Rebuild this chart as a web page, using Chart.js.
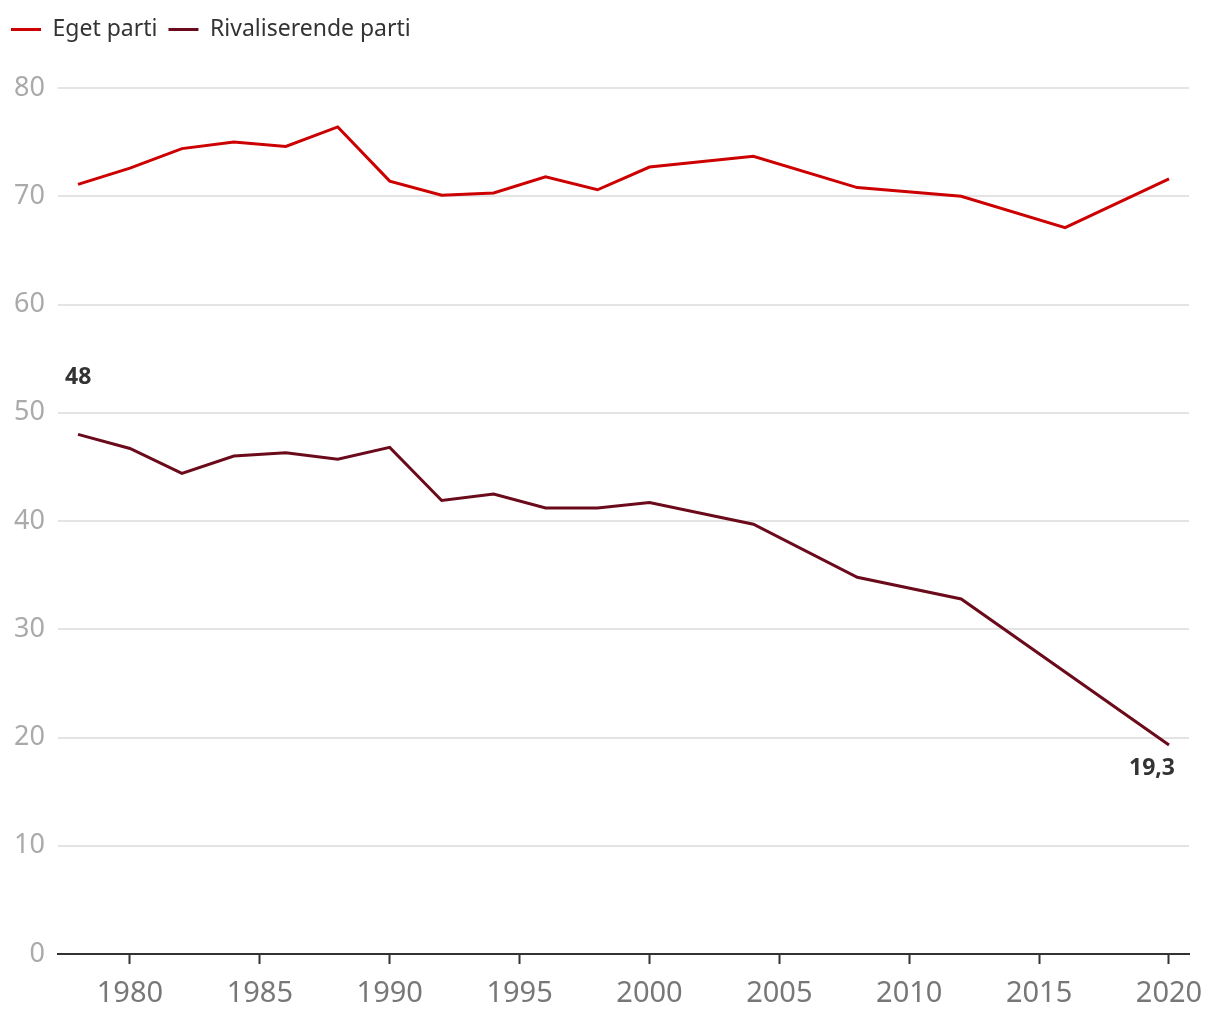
<!DOCTYPE html>
<html>
<head>
<meta charset="utf-8">
<script src="https://cdn.jsdelivr.net/npm/chart.js@4.4.1/dist/chart.umd.min.js"></script>
<style>
  html, body { margin: 0; padding: 0; background: #fff; }
  #wrap { width: 1220px; height: 1020px; }
</style>
</head>
<body>
<div id="wrap"><canvas id="chart"></canvas></div>
<script>
// years with a measurement
const years = [1978, 1980, 1982, 1984, 1986, 1988, 1990, 1992, 1994, 1996, 1998, 2000, 2004, 2008, 2012, 2016, 2020];
const egetParti = [71.1, 72.6, 74.4, 75.0, 74.6, 76.4, 71.4, 70.1, 70.3, 71.8, 70.6, 72.7, 73.7, 70.8, 70.0, 67.1, 71.6];
// 2016 not marked on the rival line (straight segment 2012-2020)
const rivalParti = [48.0, 46.7, 44.4, 46.0, 46.3, 45.7, 46.8, 41.9, 42.5, 41.2, 41.2, 41.7, 39.7, 34.8, 32.8, null, 19.3];
const yTicks = [0, 10, 20, 30, 40, 50, 60, 70, 80];
const xTicks = [1980, 1985, 1990, 1995, 2000, 2005, 2010, 2015, 2020];
const endLabels = { first: '48', last: '19,3' };

const font = '"Noto Sans", "Open Sans", sans-serif';

function toPoints(vals) {
  return years.map((y, i) => ({ x: y, y: vals[i] })).filter(p => p.y !== null);
}

// extra room under the legend
const legendGap = {
  id: 'legendGap',
  beforeInit(chart) {
    const fit = chart.legend.fit;
    chart.legend.fit = function () {
      fit.bind(chart.legend)();
      this.height += 37;
    };
  }
};

const labelPlugin = {
  id: 'endLabels',
  afterDatasetsDraw(chart) {
    const pts = chart.getDatasetMeta(1).data;
    const ctx = chart.ctx;
    ctx.save();
    ctx.font = 'bold 23px ' + font;
    ctx.fillStyle = '#333333';
    ctx.textBaseline = 'middle';
    ctx.textAlign = 'left';
    ctx.fillText(endLabels.first, pts[0].x - 13, pts[0].y - 57);
    ctx.textAlign = 'right';
    const p = pts[pts.length - 1];
    ctx.fillText(endLabels.last, p.x + 6, p.y + 23);
    ctx.restore();
  }
};

new Chart(document.getElementById('chart'), {
  type: 'line',
  data: {
    datasets: [
      {
        label: 'Eget parti',
        data: toPoints(egetParti),
        borderColor: '#cc0000',
        backgroundColor: '#cc0000',
        borderWidth: 3,
        pointRadius: 0,
        tension: 0
      },
      {
        label: 'Rivaliserende parti',
        data: toPoints(rivalParti),
        borderColor: '#6b0a1a',
        backgroundColor: '#6b0a1a',
        borderWidth: 3,
        pointRadius: 0,
        tension: 0
      }
    ]
  },
  options: {
    responsive: true,
    maintainAspectRatio: false,
    animation: false,
    layout: { padding: { top: 7, right: 31, bottom: 4, left: 0 } },
    plugins: {
      legend: {
        position: 'top',
        align: 'start',
        labels: {
          usePointStyle: true,
          pointStyle: 'line',
          pointStyleWidth: 30,
          padding: 11,
          color: '#333333',
          font: { family: font, size: 23 }
        }
      },
      tooltip: { enabled: false }
    },
    scales: {
      x: {
        type: 'linear',
        min: 1977.23,
        max: 2020.77,
        afterBuildTicks(axis) { axis.ticks = xTicks.map(v => ({ value: v })); },
        afterFit(axis) { axis.height = 62; },
        ticks: {
          color: '#777777',
          padding: 12,
          font: { family: font, size: 29 },
          callback: v => String(v)
        },
        grid: {
          drawOnChartArea: false,
          drawTicks: true,
          tickLength: 10,
          tickWidth: 2,
          tickColor: '#333333'
        },
        border: { color: '#333333', width: 2 }
      },
      y: {
        min: 0,
        max: 80,
        afterBuildTicks(axis) { axis.ticks = yTicks.map(v => ({ value: v })); },
        afterFit(axis) { axis.width = 58; },
        ticks: {
          color: '#aaaaaa',
          padding: 13,
          font: { family: font, size: 27 }
        },
        grid: {
          color: '#e4e4e4',
          lineWidth: 2,
          drawTicks: false
        },
        border: { display: false }
      }
    }
  },
  plugins: [legendGap, labelPlugin]
});
</script>
</body>
</html>
